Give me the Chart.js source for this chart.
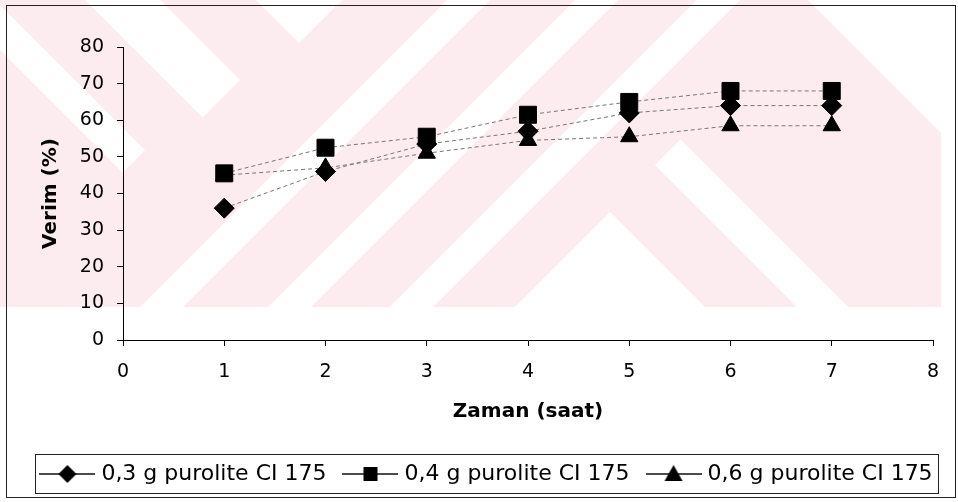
<!DOCTYPE html>
<html>
<head>
<meta charset="utf-8">
<script src="https://cdn.jsdelivr.net/npm/chart.js@4/dist/chart.umd.min.js"></script>
<style>
html,body{margin:0;padding:0;background:#fff;}
#wrap{width:958px;height:502px;}
</style>
</head>
<body>
<div id="wrap"><canvas id="c" width="958" height="502"></canvas></div>
<script>
// ---- data ----
const hours = [1, 2, 3, 4, 5, 6, 7];
const yield03 = [36, 46, 53.5, 57, 62, 64, 64];
const yield04 = [45.5, 52.5, 55.5, 61.5, 65, 68, 68];
const yield06 = [45, 47, 51, 54.5, 55.5, 58.5, 58.5];
const seriesLabels = ['0,3 g purolite CI 175', '0,4 g purolite CI 175', '0,6 g purolite CI 175'];
const xTicks = [0, 1, 2, 3, 4, 5, 6, 7, 8];
const yTicks = [0, 10, 20, 30, 40, 50, 60, 70, 80];
const xTitle = 'Zaman (saat)';
const yTitle = 'Verim (%)';

const PINK = '#fdecef';
const FONT = '"DejaVu Sans", "Liberation Sans", Arial, sans-serif';

function legendIcon(style) {
  const c = document.createElement('canvas');
  c.width = 56; c.height = 24;
  const g = c.getContext('2d');
  g.strokeStyle = '#111'; g.lineWidth = 1.5;
  g.beginPath(); g.moveTo(0, 12); g.lineTo(56, 12); g.stroke();
  g.fillStyle = '#000';
  g.beginPath();
  if (style === 'rectRot') { g.moveTo(28, 3); g.lineTo(37, 12); g.lineTo(28, 21); g.lineTo(19, 12); }
  else if (style === 'rect') { g.rect(21, 5, 14, 14); }
  else { g.moveTo(28, 3); g.lineTo(37, 19); g.lineTo(19, 19); }
  g.closePath(); g.fill();
  return c;
}
const styles = ['rectRot', 'rect', 'triangle'];
const icons = styles.map(legendIcon);

const bgPlugin = {
  id: 'bg',
  beforeDraw(chart) {
    const ctx = chart.ctx;
    ctx.save();
    ctx.fillStyle = '#fff';
    ctx.fillRect(0, 0, chart.width, chart.height);
    // faint watermark pattern behind the chart
    ctx.beginPath(); ctx.rect(0, 0, 941, 307); ctx.clip();
    ctx.fillStyle = PINK; ctx.fillRect(0, 0, 941, 307);
    ctx.fillStyle = '#fff';
    const poly = pts => { ctx.beginPath(); pts.forEach(([x, y], i) => i ? ctx.lineTo(x, y) : ctx.moveTo(x, y)); ctx.closePath(); ctx.fill(); };
    const slash = (a, b) => poly([[a, 0], [b, 0], [b - 600, 600], [a - 600, 600]]);
    const P = (d, c) => [(c + d) / 2, (c - d) / 2];
    const back = (d1, d2, c1, c2) => poly([P(d1, c1), P(d2, c1), P(d2, c2), P(d1, c2)]);
    slash(447, 490); slash(575, 618); slash(697, 740);
    back(-50, -5, -2000, 295); back(85, 160, -2000, 320); back(256, 3000, -2000, 342);
    back(-2000, 398, 822, 4000); back(490, 541, 820, 4000); back(808, 4000, -4000, 4000);
    ctx.restore();
    // outer frame
    ctx.save();
    ctx.strokeStyle = '#222'; ctx.lineWidth = 1;
    ctx.strokeRect(6.5, 5.5, 949, 492);
    ctx.restore();
  },
  afterDraw(chart) {
    const hb = chart.legend.legendHitBoxes;
    if (!hb || !hb.length) return;
    const ctx = chart.ctx;
    const first = hb[0], last = hb[hb.length - 1];
    const cy = first.top + first.height / 2;
    ctx.save();
    ctx.strokeStyle = '#222'; ctx.lineWidth = 1;
    const l = Math.round(first.left - 9) + 0.5, r = Math.round(last.left + last.width + 5) + 0.5;
    ctx.strokeRect(l, Math.round(cy - 20) + 0.5, r - l, 39);
    ctx.restore();
  }
};

const mk = (label, data, style, radius, order) => ({
  label, order, data: hours.map((h, i) => ({x: h, y: data[i]})),
  pointStyle: style, pointRadius: radius, pointHoverRadius: radius,
  backgroundColor: '#000', borderColor: '#777', pointBorderColor: '#000', pointBackgroundColor: '#000',
  borderWidth: 1, borderDash: [4, 3], pointBorderWidth: 1, tension: 0, fill: false
});

new Chart(document.getElementById('c'), {
  type: 'line',
  data: {
    datasets: [
      mk(seriesLabels[0], yield03, 'rectRot', 10, 1),
      mk(seriesLabels[1], yield04, 'rect', 12, 0),
      mk(seriesLabels[2], yield06, 'triangle', 10, 2)
    ]
  },
  plugins: [bgPlugin],
  options: {
    responsive: false,
    animation: false,
    devicePixelRatio: 1,
    layout: {padding: {left: 21, right: 2, top: 47, bottom: 7}},
    plugins: {
      tooltip: {enabled: false},
      legend: {
        position: 'bottom',
        labels: {
          usePointStyle: true,
          pointStyleWidth: 46,
          padding: 21,
          color: '#000',
          font: {family: FONT, size: 22},
          sort: (a, b) => a.datasetIndex - b.datasetIndex,
          generateLabels(chart) {
            const items = Chart.defaults.plugins.legend.labels.generateLabels(chart);
            items.forEach(it => { it.pointStyle = icons[it.datasetIndex]; });
            return items;
          }
        }
      }
    },
    scales: {
      x: {
        type: 'linear', min: 0, max: 8,
        afterBuildTicks(s) { s.ticks = xTicks.map(v => ({value: v})); },
        afterFit(s) { s.height = 102; },
        grid: {drawOnChartArea: false, drawTicks: true, tickLength: 6, color: '#000'},
        border: {color: '#000', width: 1},
        ticks: {color: '#000', padding: 15, font: {family: FONT, size: 19}},
        title: {display: true, text: xTitle, color: '#000', font: {family: FONT, size: 20, weight: 'bold'}, padding: {top: 0, bottom: 18}}
      },
      y: {
        type: 'linear', min: 0, max: 80,
        afterBuildTicks(s) { s.ticks = yTicks.map(v => ({value: v})); },
        afterFit(s) { s.width = 102; },
        grid: {drawOnChartArea: false, drawTicks: true, tickLength: 6, color: '#000'},
        border: {color: '#000', width: 1},
        ticks: {color: '#000', padding: 13, font: {family: FONT, size: 19}},
        title: {display: true, text: yTitle, color: '#000', font: {family: FONT, size: 20, weight: 'bold'}, padding: {top: 18, bottom: 0}}
      },
      yRight: {
        type: 'linear', position: 'right', min: 0, max: 80,
        afterFit(s) { s.width = 23; },
        grid: {display: false},
        border: {display: false},
        ticks: {display: false}
      }
    }
  }
});
</script>
</body>
</html>
